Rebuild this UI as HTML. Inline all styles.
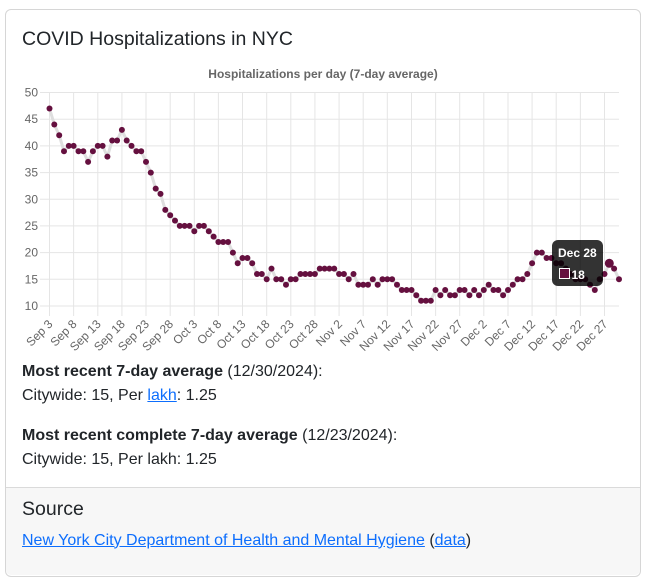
<!DOCTYPE html>
<html>
<head>
<meta charset="utf-8">
<style>
  html,body{margin:0;padding:0;background:#fff;}
  body{width:653px;height:579px;position:relative;overflow:hidden;font-family:"Liberation Sans",Arial,sans-serif;color:#212529;}
  .card{position:absolute;left:5px;top:9px;width:636px;height:568px;box-sizing:border-box;border:1px solid #d6d6d6;border-radius:6px;background:#fff;}
  .footer{position:absolute;left:6px;top:487px;width:634px;height:88px;background:#f7f7f7;border-top:1px solid #dadada;border-radius:0 0 5px 5px;box-sizing:border-box;}
  .t{position:absolute;left:22px;white-space:nowrap;}
  .h{font-size:19.5px;line-height:24px;}
  .p{font-size:16px;line-height:24px;}
  a{color:#0d6efd;text-decoration:underline;}
  svg{position:absolute;left:0;top:0;}
</style>
</head>
<body>
<div class="card"></div>
<div class="footer"></div>

<div class="t h" style="top:27.2px;">COVID Hospitalizations in NYC</div>

<svg width="653" height="579" viewBox="0 0 653 579" xmlns="http://www.w3.org/2000/svg" font-family="Liberation Sans, Arial, sans-serif">
  <defs>
    <marker id="m" markerWidth="8" markerHeight="8" refX="4" refY="4" markerUnits="userSpaceOnUse">
      <circle cx="4" cy="4" r="3" fill="#65103f"/>
    </marker>
  </defs>
  <text x="323" y="78" text-anchor="middle" font-weight="bold" font-size="12" fill="#666">Hospitalizations per day (7-day average)</text>

  <!-- horizontal grid -->
  <g stroke="#e5e5e5" stroke-width="1">
    <line x1="40" x2="619" y1="92.5" y2="92.5"/>
    <line x1="40" x2="619" y1="119.2" y2="119.2"/>
    <line x1="40" x2="619" y1="145.9" y2="145.9"/>
    <line x1="40" x2="619" y1="172.6" y2="172.6"/>
    <line x1="40" x2="619" y1="199.3" y2="199.3"/>
    <line x1="40" x2="619" y1="225.9" y2="225.9"/>
    <line x1="40" x2="619" y1="252.6" y2="252.6"/>
    <line x1="40" x2="619" y1="279.3" y2="279.3"/>
    <line x1="40" x2="619" y1="306" y2="306"/>
  </g>
  <!-- vertical grid -->
  <g stroke="#e5e5e5" stroke-width="1">
    <line y1="92.5" y2="316" x1="49.5" x2="49.5"/>
    <line y1="92.5" y2="316" x1="73.6" x2="73.6"/>
    <line y1="92.5" y2="316" x1="97.8" x2="97.8"/>
    <line y1="92.5" y2="316" x1="121.9" x2="121.9"/>
    <line y1="92.5" y2="316" x1="146.0" x2="146.0"/>
    <line y1="92.5" y2="316" x1="170.2" x2="170.2"/>
    <line y1="92.5" y2="316" x1="194.3" x2="194.3"/>
    <line y1="92.5" y2="316" x1="218.4" x2="218.4"/>
    <line y1="92.5" y2="316" x1="242.5" x2="242.5"/>
    <line y1="92.5" y2="316" x1="266.7" x2="266.7"/>
    <line y1="92.5" y2="316" x1="290.8" x2="290.8"/>
    <line y1="92.5" y2="316" x1="314.9" x2="314.9"/>
    <line y1="92.5" y2="316" x1="339.1" x2="339.1"/>
    <line y1="92.5" y2="316" x1="363.2" x2="363.2"/>
    <line y1="92.5" y2="316" x1="387.3" x2="387.3"/>
    <line y1="92.5" y2="316" x1="411.5" x2="411.5"/>
    <line y1="92.5" y2="316" x1="435.6" x2="435.6"/>
    <line y1="92.5" y2="316" x1="459.7" x2="459.7"/>
    <line y1="92.5" y2="316" x1="483.8" x2="483.8"/>
    <line y1="92.5" y2="316" x1="508.0" x2="508.0"/>
    <line y1="92.5" y2="316" x1="532.1" x2="532.1"/>
    <line y1="92.5" y2="316" x1="556.2" x2="556.2"/>
    <line y1="92.5" y2="316" x1="580.4" x2="580.4"/>
    <line y1="92.5" y2="316" x1="604.5" x2="604.5"/>
  </g>

  <!-- y labels -->
  <g font-size="12" fill="#666" text-anchor="end" dominant-baseline="central">
    <text x="38" y="92.5">50</text>
    <text x="38" y="119.2">45</text>
    <text x="38" y="145.9">40</text>
    <text x="38" y="172.6">35</text>
    <text x="38" y="199.3">30</text>
    <text x="38" y="225.9">25</text>
    <text x="38" y="252.6">20</text>
    <text x="38" y="279.3">15</text>
    <text x="38" y="306">10</text>
  </g>

  <!-- x labels -->
  <g font-size="12" fill="#666" text-anchor="end" dominant-baseline="central">
    <text transform="translate(50.5,322) rotate(-45)">Sep 3</text>
    <text transform="translate(74.6,322) rotate(-45)">Sep 8</text>
    <text transform="translate(98.8,322) rotate(-45)">Sep 13</text>
    <text transform="translate(122.9,322) rotate(-45)">Sep 18</text>
    <text transform="translate(147.0,322) rotate(-45)">Sep 23</text>
    <text transform="translate(171.2,322) rotate(-45)">Sep 28</text>
    <text transform="translate(195.3,322) rotate(-45)">Oct 3</text>
    <text transform="translate(219.4,322) rotate(-45)">Oct 8</text>
    <text transform="translate(243.5,322) rotate(-45)">Oct 13</text>
    <text transform="translate(267.7,322) rotate(-45)">Oct 18</text>
    <text transform="translate(291.8,322) rotate(-45)">Oct 23</text>
    <text transform="translate(315.9,322) rotate(-45)">Oct 28</text>
    <text transform="translate(340.1,322) rotate(-45)">Nov 2</text>
    <text transform="translate(364.2,322) rotate(-45)">Nov 7</text>
    <text transform="translate(388.3,322) rotate(-45)">Nov 12</text>
    <text transform="translate(412.5,322) rotate(-45)">Nov 17</text>
    <text transform="translate(436.6,322) rotate(-45)">Nov 22</text>
    <text transform="translate(460.7,322) rotate(-45)">Nov 27</text>
    <text transform="translate(484.8,322) rotate(-45)">Dec 2</text>
    <text transform="translate(509.0,322) rotate(-45)">Dec 7</text>
    <text transform="translate(533.1,322) rotate(-45)">Dec 12</text>
    <text transform="translate(557.2,322) rotate(-45)">Dec 17</text>
    <text transform="translate(581.4,322) rotate(-45)">Dec 22</text>
    <text transform="translate(605.5,322) rotate(-45)">Dec 27</text>
  </g>

  <!-- series -->
  <polyline fill="none" stroke="#dedede" stroke-width="3" stroke-linejoin="round"
    marker-start="url(#m)" marker-mid="url(#m)" marker-end="url(#m)"
    points="49.5,108.5 54.3,124.5 59.2,135.2 64.0,151.2 68.8,145.9 73.6,145.9 78.5,151.2 83.3,151.2 88.1,161.9 92.9,151.2 97.8,145.9 102.6,145.9 107.4,156.6 112.2,140.5 117.1,140.5 121.9,129.9 126.7,140.5 131.5,145.9 136.4,151.2 141.2,151.2 146.0,161.9 150.8,172.6 155.7,188.6 160.5,193.9 165.3,209.9 170.2,215.3 175.0,220.6 179.8,225.9 184.6,225.9 189.5,225.9 194.3,231.3 199.1,225.9 203.9,225.9 208.8,231.3 213.6,236.6 218.4,242.0 223.2,242.0 228.1,242.0 232.9,252.6 237.7,263.3 242.5,258.0 247.4,258.0 252.2,263.3 257.0,274.0 261.8,274.0 266.7,279.3 271.5,268.6 276.3,279.3 281.2,279.3 286.0,284.7 290.8,279.3 295.6,279.3 300.5,274.0 305.3,274.0 310.1,274.0 314.9,274.0 319.8,268.6 324.6,268.6 329.4,268.6 334.2,268.6 339.1,274.0 343.9,274.0 348.7,279.3 353.5,274.0 358.4,284.7 363.2,284.7 368.0,284.7 372.8,279.3 377.7,284.7 382.5,279.3 387.3,279.3 392.1,279.3 397.0,284.7 401.8,290.0 406.6,290.0 411.5,290.0 416.3,295.3 421.1,300.7 425.9,300.7 430.8,300.7 435.6,290.0 440.4,295.3 445.2,290.0 450.1,295.3 454.9,295.3 459.7,290.0 464.5,290.0 469.4,295.3 474.2,290.0 479.0,295.3 483.8,290.0 488.7,284.7 493.5,290.0 498.3,290.0 503.1,295.3 508.0,290.0 512.8,284.7 517.6,279.3 522.5,279.3 527.3,274.0 532.1,263.3 536.9,252.6 541.8,252.6 546.6,258.0 551.4,258.0 556.2,263.3 561.1,263.3 565.9,268.6 570.7,274.0 575.5,279.3 580.4,279.3 585.2,279.3 590.0,284.7 594.8,290.0 599.7,279.3 604.5,274.0 609.3,263.3 614.1,268.6 619.0,279.3"/>
  <!-- hovered point -->
  <circle cx="609.3" cy="263.3" r="4.5" fill="#65103f"/>

  <!-- tooltip -->
  <rect x="552" y="240" width="51" height="46" rx="6" ry="6" fill="rgba(0,0,0,0.8)"/>
  <text x="558" y="257" font-size="12" font-weight="bold" fill="#fff">Dec 28</text>
  <rect x="559.5" y="268.5" width="10" height="10" fill="#65103f" stroke="#fff" stroke-width="1"/>
  <text x="571.5" y="279" font-size="12" font-weight="bold" fill="#fff">18</text>
</svg>

<div class="t p" style="top:359.5px;"><b>Most recent 7-day average</b> (12/30/2024):<br>Citywide: 15, Per <a>lakh</a>: 1.25</div>
<div class="t p" style="top:423.5px;"><b>Most recent complete 7-day average</b> (12/23/2024):<br>Citywide: 15, Per lakh: 1.25</div>

<div class="t h" style="top:497.2px;">Source</div>
<div class="t p" style="top:528.5px;"><a>New York City Department of Health and Mental Hygiene</a> (<a>data</a>)</div>
</body>
</html>
